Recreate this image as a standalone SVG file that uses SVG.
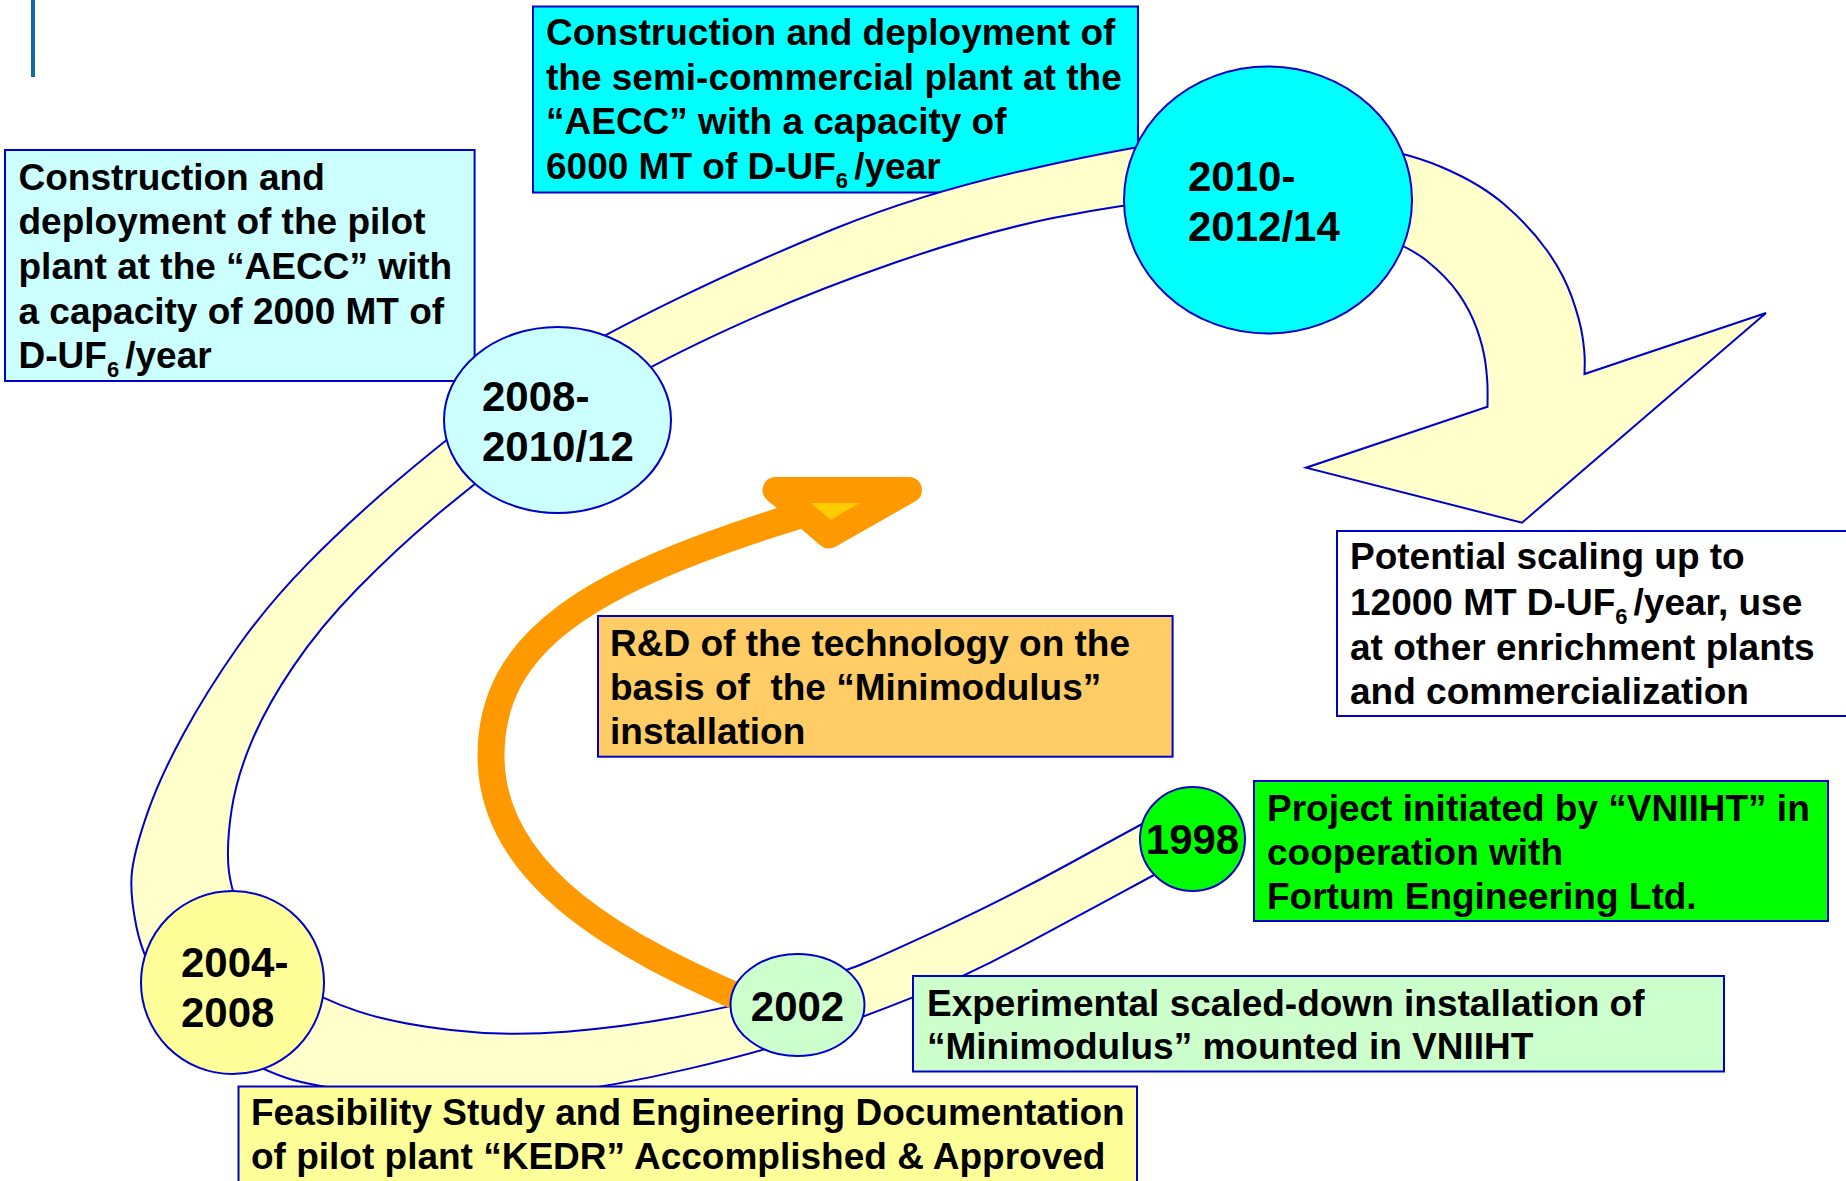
<svg xmlns="http://www.w3.org/2000/svg" width="1846" height="1181" viewBox="0 0 1846 1181">
<style>
.t{font-family:"Liberation Sans",Arial,sans-serif;font-weight:bold;font-size:37px;fill:#000}
.c{font-size:42px}
.box{stroke:#0000CC;stroke-width:2}
.sub{font-size:22px}
</style>
<rect width="1846" height="1181" fill="#FFFFFF"/>
<rect x="31" y="0" width="4" height="77" fill="#0F6CA3"/>

<g id="box-pilot">
<rect class="box" x="5" y="150" width="469.6" height="231" fill="#CCFFFF"/>
<text class="t" x="18.5" y="190">Construction and</text>
<text class="t" x="18.5" y="234">deployment of the pilot</text>
<text class="t" x="18.5" y="279">plant at the “AECC” with</text>
<text class="t" x="18.5" y="324">a capacity of 2000 MT of</text>
<text class="t" x="18.5" y="368">D-UF<tspan class="sub" dy="9">6 </tspan><tspan dy="-9">/year</tspan></text>
</g>

<g id="box-semicommercial">
<rect class="box" x="533" y="6.5" width="605" height="186" fill="#00FFFF"/>
<text class="t" x="546" y="45">Construction and deployment of</text>
<text class="t" x="546" y="90">the semi-commercial plant at the</text>
<text class="t" x="546" y="134">“AECC” with a capacity of</text>
<text class="t" x="546" y="179">6000 MT of D-UF<tspan class="sub" dy="9">6 </tspan><tspan dy="-9">/year</tspan></text>
</g>

<g id="connectors">
<path id="band" fill="#FFFFCC" stroke="#0000CC" stroke-width="2" stroke-linejoin="miter" d="M 1178 862 L 1166 868.5 Q 1154 875 1109.4 899.15 Q 1064.8 923.3 1015.4 949.65 Q 966 976 915.3 996.35 Q 864.6 1016.7 814.8 1033.85 Q 765 1050.7 690.3 1068.35 Q 615.6 1086 537.8 1096 Q 460 1106 385.25 1096 Q 310.5 1086 286.6 1078 Q 262.7 1070 226.35 1050 Q 190 1030 166.65 995.5 Q 143.3 961 136.3 926.2 Q 129.3 891.4 132.15 870 Q 135 848.6 147.5 812.8 Q 160 777 183.35 734.2 Q 206.7 691.4 236.7 648.55 Q 266.7 605.7 306.7 564.65 Q 346.7 523.6 396.2 481.6 Q 445.7 439.6 482.85 412.3 Q 520 385 561.6 360 Q 603.2 335 676.4 299.15 Q 749.6 263.3 835.7 228.3 Q 921.8 193.3 1029.4 169.15 Q 1137 145 1203.5 137.5 Q 1270 130 1336.35 140.35 Q 1402.7 150.7 1441.35 167 Q 1480 183.3 1505 205 Q 1530 226.7 1546.65 250 Q 1563.3 273.3 1571.65 296.65 Q 1580 320 1582.5 336.65 Q 1585 353.3 1584.75 363.65 L 1584.5 374 L 1766 313 L 1522 522.7 L 1306 467.7 L 1487.5 406.7 L 1487.6 393.35 Q 1487.7 380 1485.5 363.35 Q 1483.3 346.7 1476.65 328.35 Q 1470 310 1458.35 293.35 Q 1446.7 276.7 1425.85 260 Q 1405 243.3 1335 217.65 Q 1265 192 1194.5 197.65 Q 1124 203.3 1051.6 218.3 Q 979.2 233.3 893.1 263.3 Q 807 293.3 733.8 326.65 Q 660.6 360 610.3 390 Q 560 420 516.65 452.15 Q 473.3 484.3 435 516.45 Q 396.7 548.6 358.35 587.8 Q 320 627 293.35 666.35 Q 266.7 705.7 251.7 741.35 Q 236.7 777 231.7 809.2 Q 226.7 841.4 228.35 865.5 Q 230 889.6 245 924.8 Q 260 960 291.5 980 Q 323 1000 358.8 1011.65 Q 394.6 1023.3 450.75 1030 Q 506.9 1036.7 566.45 1031.7 Q 626 1026.7 678.7 1016.7 Q 731.4 1006.7 760.7 998.35 Q 790 990 819.6 979.65 Q 849.2 969.3 864.6 963 Q 880 956.7 941.5 928.35 Q 1003 900 1071.5 862.5 Q 1140 825 1152.5 818.5 L 1165 812 Z"/>
<path id="rd-arrow-shaft" fill="none" stroke="#FF9900" stroke-width="27" d="M 745 1000 C 630 950, 491 880, 491 756 C 491 640, 590 580, 800 515"/>
<polygon id="rd-arrow-head" points="775.5,490 909,490 829,535.5" fill="#FFCC00" stroke="#FF9900" stroke-width="26" stroke-linejoin="round"/>
</g>

<g id="box-rd">
<rect class="box" x="598" y="616" width="574.6" height="140.7" fill="#FFCC66"/>
<text class="t" x="610" y="656">R&amp;D of the technology on the</text>
<text class="t" x="610" y="700" xml:space="preserve">basis of  the “Minimodulus”</text>
<text class="t" x="610" y="744">installation</text>
</g>

<g id="node-2008">
<ellipse class="box" cx="557.5" cy="420" rx="113.5" ry="93" fill="#CCFFFF"/>
<text class="t c" x="482" y="411">2008-</text>
<text class="t c" x="482" y="461">2010/12</text>
</g>

<g id="node-2010">
<ellipse class="box" cx="1268" cy="200" rx="144" ry="133.5" fill="#00FFFF"/>
<text class="t c" x="1188" y="191">2010-</text>
<text class="t c" x="1188" y="241">2012/14</text>
</g>

<g id="node-2004">
<ellipse class="box" cx="232.5" cy="982.5" rx="91.5" ry="91.5" fill="#FFFF99"/>
<text class="t c" x="181" y="977">2004-</text>
<text class="t c" x="181" y="1027">2008</text>
</g>

<g id="node-2002">
<ellipse class="box" cx="797.5" cy="1005" rx="67" ry="51" fill="#CCFFCC"/>
<text class="t c" x="797.5" y="1021" text-anchor="middle">2002</text>
</g>

<g id="node-1998">
<ellipse class="box" cx="1192.5" cy="839" rx="52.5" ry="52" fill="#00FF00"/>
<text class="t c" x="1192.5" y="854" text-anchor="middle">1998</text>
</g>

<g id="box-potential">
<rect class="box" x="1337" y="531" width="520" height="185" fill="#FFFFFF"/>
<text class="t" x="1350" y="569">Potential scaling up to</text>
<text class="t" x="1350" y="615">12000 MT D-UF<tspan class="sub" dy="9">6 </tspan><tspan dy="-9">/year, use</tspan></text>
<text class="t" x="1350" y="660">at other enrichment plants</text>
<text class="t" x="1350" y="704">and commercialization</text>
</g>

<g id="box-project">
<rect class="box" x="1254" y="781" width="574" height="140" fill="#00FF00"/>
<text class="t" x="1267" y="821">Project initiated by “VNIIHT” in</text>
<text class="t" x="1267" y="865">cooperation with</text>
<text class="t" x="1267" y="909">Fortum Engineering Ltd.</text>
</g>

<g id="box-experimental">
<rect class="box" x="913" y="976" width="811" height="95.5" fill="#CCFFCC"/>
<text class="t" x="927" y="1016">Experimental scaled-down installation of</text>
<text class="t" x="927" y="1059">“Minimodulus” mounted in VNIIHT</text>
</g>

<g id="box-feasibility">
<rect class="box" x="238.5" y="1086.5" width="898.5" height="110" fill="#FFFF99"/>
<text class="t" x="251" y="1125">Feasibility Study and Engineering Documentation</text>
<text class="t" x="251" y="1169">of pilot plant “KEDR” Accomplished &amp; Approved</text>
</g>
</svg>
